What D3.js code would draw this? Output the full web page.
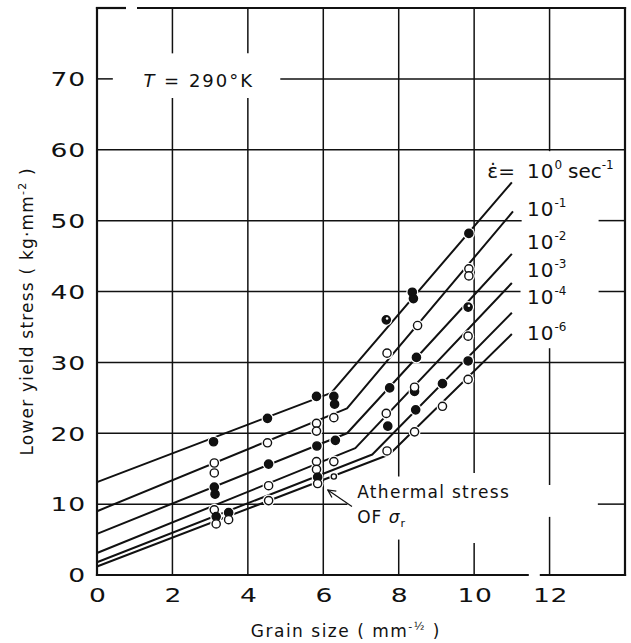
<!DOCTYPE html>
<html>
<head>
<meta charset="utf-8">
<script src="https://cdn.jsdelivr.net/npm/d3@7"></script>
<style>
  body { margin: 0; background: #fff; }
  text { font-family: "DejaVu Sans", sans-serif; fill: #111; }
</style>
</head>
<body>
<script>
// strain rate exponents (10^n sec^-1)
var rates = [0, -1, -2, -3, -4, -6];

// fitted lines: [grain size, stress] at start, knee, end
var fit0 = [[0, 13.1], [6.21, 25.7], [11.0, 55.4]];
var fit1 = [[0, 9.0], [6.63, 23.5], [11.03, 51.3]];
var fit2 = [[0, 5.8], [6.63, 20.0], [11.0, 45.3]];
var fit3 = [[0, 3.1], [6.85, 17.9], [11.0, 41.2]];
var fit4 = [[0, 1.8], [7.3, 17.0], [11.0, 37.0]];
var fit5 = [[0, 1.2], [7.75, 17.0], [11.0, 34.0]];

// measured points: grain size, stress, symbol (f filled, o open, h half, s small open)
var pts0 = [[3.09, 18.8, "f"], [4.52, 22.1, "f"], [5.82, 25.2, "f"], [6.28, 25.2, "f"], [6.30, 24.1, "f"],
            [7.67, 36.0, "h"], [8.36, 39.9, "f"], [8.39, 39.0, "f"], [9.86, 48.2, "f"]];
var pts1 = [[3.11, 15.8, "o"], [3.11, 14.4, "o"], [4.52, 18.65, "o"], [5.82, 21.4, "o"], [5.82, 20.3, "o"],
            [6.28, 22.2, "o"], [7.69, 31.3, "o"], [8.50, 35.2, "o"], [9.86, 43.2, "o"], [9.86, 42.2, "o"]];
var pts2 = [[3.11, 12.4, "f"], [3.13, 11.4, "f"], [4.55, 15.65, "f"], [5.83, 18.2, "f"], [6.32, 19.0, "f"],
            [7.76, 26.4, "f"], [8.47, 30.7, "f"], [9.84, 37.8, "h"]];
var pts3 = [[3.11, 9.2, "o"], [4.55, 12.6, "o"], [5.82, 16.0, "o"], [5.82, 14.9, "o"], [6.28, 16.0, "o"],
            [7.67, 22.8, "o"], [8.42, 25.9, "f"], [8.42, 26.5, "o"], [9.84, 33.7, "o"]];
var pts4 = [[3.16, 8.25, "f"], [3.49, 8.8, "f"], [5.85, 13.8, "f"], [6.28, 13.9, "s"], [7.71, 21.0, "f"],
            [8.45, 23.3, "f"], [9.16, 27.0, "f"], [9.84, 30.2, "f"]];
var pts5 = [[3.16, 7.2, "o"], [3.49, 7.8, "o"], [4.55, 10.5, "o"], [5.85, 12.9, "o"], [7.69, 17.5, "o"],
            [8.42, 20.2, "o"], [9.16, 23.8, "o"], [9.84, 27.6, "o"]];

var xTicks = [0, 2, 4, 6, 8, 10, 12];
var yTicks = [0, 10, 20, 30, 40, 50, 60, 70];

var fits = [fit0, fit1, fit2, fit3, fit4, fit5];
var points = [pts0, pts1, pts2, pts3, pts4, pts5];

var margin = {top: 8, right: 6, bottom: 68, left: 97},
  width = 631 - margin.left - margin.right,
  height = 643 - margin.top - margin.bottom;

var svg = d3.select("body")
  .append("svg")
  .attr("width", width + margin.left + margin.right)
  .attr("height", height + margin.top + margin.bottom);

var chart = svg.append("g")
  .attr("transform", "translate(" + margin.left + "," + margin.top + ")");

var x = d3.scaleLinear().domain([0, 14]).range([0, width]);
var y = d3.scaleLinear().domain([0, 80]).range([height, 0]);

// grid lines have breaks where the old drawing left room for labels
function pieces(lo, hi, gaps) {
  var out = [], s = lo;
  gaps.forEach(function (g) { out.push([s, g[0]]); s = g[1]; });
  out.push([s, hi]);
  return out;
}
var vGaps = {2: [[67.3, 73.6]], 4: [[67.3, 73.6]], 8: [[5.0, 13.9]], 10: [[4.5, 14.4]], 12: [[8.2, 12.7], [32.0, 59.8]]};
var hGaps = {70: [[0.42, 4.86]], 50: [[11.26, 13.3]], 40: [[11.23, 13.3]], 10: [[6.64, 13.28]]};

var grid = chart.append("g").attr("stroke", "#111").attr("stroke-width", 1.5);
xTicks.filter(d => d > 0).forEach(function (v) {
  pieces(0, 80, vGaps[v] || []).forEach(function (p) {
    grid.append("line").attr("x1", x(v)).attr("x2", x(v)).attr("y1", y(p[0])).attr("y2", y(p[1]));
  });
});
yTicks.filter(d => d > 0).forEach(function (v) {
  pieces(0, 14, hGaps[v] || []).forEach(function (p) {
    grid.append("line").attr("y1", y(v)).attr("y2", y(v)).attr("x1", x(p[0])).attr("x2", x(p[1]));
  });
});

// frame
var frame = chart.append("g").attr("stroke", "#111").attr("stroke-width", 2.2).attr("stroke-linecap", "square");
frame.append("line").attr("x1", 0).attr("x2", 0).attr("y1", 0).attr("y2", height);
frame.append("line").attr("x1", width).attr("x2", width).attr("y1", 0).attr("y2", height);
pieces(0, 14, [[0.74, 1.09]]).forEach(function (p) {
  frame.append("line").attr("x1", x(p[0])).attr("x2", x(p[1])).attr("y1", 0).attr("y2", 0);
});
pieces(0, 14, [[11.42, 11.77]]).forEach(function (p) {
  frame.append("line").attr("x1", x(p[0])).attr("x2", x(p[1])).attr("y1", height).attr("y2", height);
});

// axes (labels only, the grid does the ticks); the old lettering is wide, so stretch it a bit
var xAxis = chart.append("g")
  .attr("transform", "translate(0," + height + ")")
  .call(d3.axisBottom(x).tickValues(xTicks).tickSize(0).tickFormat(d3.format("d")));
xAxis.select(".domain").remove();
xAxis.selectAll("text").attr("dy", null).attr("y", 27).attr("dx", 0.3)
  .attr("transform", "scale(1.4,1)")
  .style("font-size", "19px").style("letter-spacing", "0.5px");

var yAxis = chart.append("g")
  .call(d3.axisLeft(y).tickValues(yTicks).tickSize(0).tickPadding(8).tickFormat(d3.format("d")));
yAxis.select(".domain").remove();
yAxis.selectAll("text").attr("dy", "0.36em")
  .attr("transform", "scale(1.4,1)")
  .style("font-size", "19px").style("letter-spacing", "0.5px");

// axis titles
var xt = svg.append("text")
  .attr("x", margin.left + x(6.6)).attr("y", 637)
  .attr("text-anchor", "middle").style("font-size", "17px").style("letter-spacing", "1.5px");
xt.append("tspan").text("Grain size  ( mm");
xt.append("tspan").attr("dy", -7).style("font-size", "11px").text("-½");
xt.append("tspan").attr("dy", 7).text(" )");

var yt = svg.append("text")
  .attr("transform", "translate(33," + (margin.top + y(37.2)) + ") rotate(-90)")
  .attr("text-anchor", "middle").style("font-size", "17px").style("letter-spacing", "1.2px");
yt.append("tspan").text("Lower yield stress  ( kg·mm");
yt.append("tspan").attr("dy", -7).style("font-size", "11px").text("-2");
yt.append("tspan").attr("dy", 7).text(" )");

// fitted lines
var line = d3.line().x(d => x(d[0])).y(d => y(d[1]));
chart.selectAll(".fit")
  .data(fits)
  .enter()
  .append("path")
  .attr("class", "fit")
  .attr("d", line)
  .attr("fill", "none")
  .attr("stroke", "#111")
  .attr("stroke-width", 2)
  .attr("stroke-linejoin", "round");

// points: white halo first so lines break round the symbols
var allPts = d3.merge(points);
chart.selectAll(".halo")
  .data(allPts)
  .enter()
  .append("circle")
  .attr("cx", d => x(d[0])).attr("cy", d => y(d[1]))
  .attr("r", d => d[2] == "s" ? 4.5 : 6)
  .attr("fill", "#fff");

chart.selectAll(".pt")
  .data(allPts)
  .enter()
  .append("circle")
  .attr("cx", d => x(d[0])).attr("cy", d => y(d[1]))
  .attr("r", d => d[2] == "s" ? 2.6 : 4.1)
  .attr("fill", d => (d[2] == "f" || d[2] == "h") ? "#111" : "#fff")
  .attr("stroke", "#111")
  .attr("stroke-width", 1.4);

chart.selectAll(".hole")
  .data(allPts.filter(d => d[2] == "h"))
  .enter()
  .append("circle")
  .attr("cx", d => x(d[0]) + 0.8).attr("cy", d => y(d[1]) - 1.4)
  .attr("r", 1.3)
  .attr("fill", "#fff");

// strain-rate labels next to the line ends
var labelY = [56.06, 50.7, 46.0, 42.0, 38.3, 33.1];
rates.forEach(function (r, i) {
  var t = chart.append("text")
    .attr("x", x(11.4)).attr("y", y(labelY[i]))
    .style("font-size", "20px");
  t.append("tspan").text("10").style("letter-spacing", "1px");
  t.append("tspan").attr("dy", -9).style("font-size", "12px").text(r == 0 ? "0" : "-" + (-r));
  if (i == 0) {
    t.append("tspan").attr("dy", 9).attr("dx", 6).text("sec");
    t.append("tspan").attr("dy", -9).style("font-size", "12px").text("-1");
  }
});
chart.append("text")
  .attr("x", x(10.35)).attr("y", y(labelY[0]))
  .style("font-size", "20px")
  .text("ε\u0307=");

// temperature
var tt = chart.append("text")
  .attr("x", x(1.23)).attr("y", y(68.9))
  .style("font-size", "18px").style("letter-spacing", "2px");
tt.append("tspan").style("font-style", "italic").text("T");
tt.append("tspan").text(" = 290°K");

// athermal stress note with arrow
chart.append("defs").append("marker")
  .attr("id", "head")
  .attr("viewBox", "0 0 10 10").attr("refX", 9).attr("refY", 5)
  .attr("markerWidth", 8).attr("markerHeight", 8)
  .attr("orient", "auto")
  .append("path")
  .attr("d", "M1,1 L9,5 L1,9")
  .attr("fill", "none").attr("stroke", "#111").attr("stroke-width", 1.3);

chart.append("line")
  .attr("x1", x(6.76)).attr("y1", y(9.65))
  .attr("x2", x(6.12)).attr("y2", y(12.0))
  .attr("stroke", "#111").attr("stroke-width", 1.2)
  .attr("marker-end", "url(#head)");

chart.append("text")
  .attr("x", x(6.9)).attr("y", y(10.9))
  .style("font-size", "17px").style("letter-spacing", "1.3px")
  .text("Athermal stress");
var of = chart.append("text")
  .attr("x", x(6.9)).attr("y", y(7.3))
  .style("font-size", "17px").style("letter-spacing", "1px");
of.append("tspan").text("OF  ");
of.append("tspan").style("font-style", "italic").text("σ");
of.append("tspan").attr("dy", 4).style("font-size", "11px").text("r");
</script>
</body>
</html>
